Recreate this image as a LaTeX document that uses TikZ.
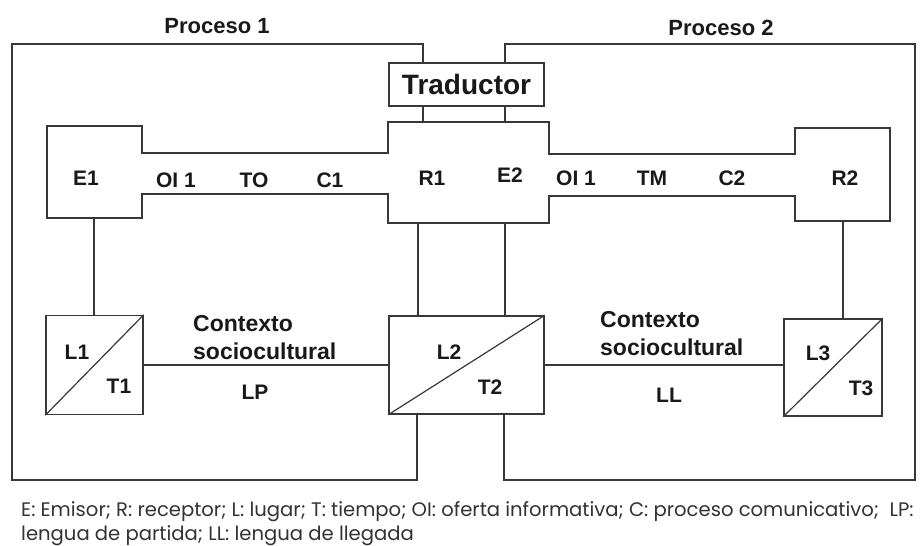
\documentclass[tikz,border=0pt]{standalone}
\usepackage{fontspec}
\setmainfont{Liberation Sans}
\newfontfamily\capfont{Poppins}
\begin{document}
\begin{tikzpicture}[x=1pt,y=-1pt,
  ln/.style={draw=black!78, line width=1.5pt},
  lab/.style={font=\bfseries\fontsize{21}{25}\selectfont, inner sep=0pt, text=black!90},
  big/.style={font=\bfseries\fontsize{22}{28}\selectfont, inner sep=0pt, text=black!90},
  ctx/.style={font=\bfseries\fontsize{23}{28}\selectfont, inner sep=0pt, text=black!90, align=left, anchor=north west},
  bx/.style={ln, rectangle, inner sep=0pt, fill=white}
]
\useasboundingbox[fill=white] (0,0) rectangle (924,546);

% boxes
\node[bx, minimum width=155pt, minimum height=43pt, font=\bfseries\fontsize{28}{32}\selectfont, text=black!90] (Trad) at (466.5,84.5) {Traductor};
\node[bx, minimum width=97pt, minimum height=99pt] (L1) at (94.5,365) {};
\node[bx, minimum width=155pt, minimum height=98pt] (L2) at (466.5,365) {};
\node[bx, minimum width=98pt, minimum height=97pt] (L3) at (833,367.5) {};

% diagonals
\draw[ln, line width=1.2pt] (L1.south west) -- (L1.north east);
\draw[ln, line width=1.2pt] (L2.south west) -- (L2.north east);
\draw[ln, line width=1.2pt] (L3.south west) -- (L3.north east);

% top row outline
\coordinate (e1b) at (94,218);
\coordinate (r1t) at (423,122);
\coordinate (e2t) at (505,122);
\coordinate (r1b) at (418,223);
\coordinate (e2b) at (505,223);
\coordinate (r2b) at (843,221);
\draw[ln] (47,126) -- (142,126) -- (142,153) -- (388,153) -- (388,122) -- (549,122)
  -- (549,154) -- (795,154) -- (795,128) -- (890,128) -- (890,221) -- (795,221)
  -- (795,196) -- (549,196) -- (549,223) -- (388,223) -- (388,194) -- (142,194)
  -- (142,218) -- (47,218) -- cycle;

% process frames
\coordinate (p1a) at (423,44);
\coordinate (p1d) at (417,480);
\coordinate (p2a) at (505,44);
\coordinate (p2d) at (504,480);
\draw[ln] (p1a |- Trad.north) -- (p1a) -- (12,44) -- (12,480) -- (p1d) -- (p1d |- L2.south);
\draw[ln] (p2a |- Trad.north) -- (p2a) -- (915,44) -- (915,480) -- (p2d) -- (p2d |- L2.south);

% connectors
\draw[ln] (Trad.south -| r1t) -- (r1t);
\draw[ln] (Trad.south -| e2t) -- (e2t);
\draw[ln] (e1b) -- (e1b |- L1.north);
\draw[ln] (r1b) -- (r1b |- L2.north);
\draw[ln] (e2b) -- (e2b |- L2.north);
\draw[ln] (r2b) -- (r2b |- L3.north);
\draw[ln] (L1.east) -- (L2.west);
\draw[ln] (L2.east) -- (L2.east -| L3.west);

% titles
\node[big] (P1) at (217,26) {Proceso 1};
\node[big] (P2) at (721,28) {Proceso 2};

% row labels
\node[lab] (E1) at (86,178) {E1};
\node[lab] (OIa) at (176,180) {OI 1};
\node[lab] (TO) at (254,180) {TO};
\node[lab] (C1) at (330,180) {C1};
\node[lab] (R1) at (432,178) {R1};
\node[lab] (E2) at (510,175) {E2};
\node[lab] (OIb) at (576,178) {OI 1};
\node[lab] (TM) at (652,178) {TM};
\node[lab] (C2) at (732,178) {C2};
\node[lab] (R2) at (845,178) {R2};

% box labels
\node[lab] (tL1) at (77,352) {L1};
\node[lab] (tT1) at (119,386) {T1};
\node[lab] (tL2) at (449,352) {L2};
\node[lab] (tT2) at (490,387) {T2};
\node[lab] (tL3) at (818,353) {L3};
\node[lab] (tT3) at (861,388) {T3};

% contexts
\node[ctx] (cx1) at (193,315) {Contexto\\sociocultural};
\node[ctx] (cx2) at (600,311) {Contexto\\sociocultural};
\node[lab] (LP) at (255,392) {LP};
\node[lab] (LL) at (669,395) {LL};

% caption
\node[anchor=base west, inner sep=0pt, align=left, text=black!80,
  font=\capfont\fontsize{19.6}{24}\selectfont] (cap) at (21,540)
  {E: Emisor; R: receptor; L: lugar; T: tiempo; OI: oferta informativa; C: proceso comunicativo;\ \ LP:\\lengua de partida; LL: lengua de llegada};
\end{tikzpicture}
\end{document}
